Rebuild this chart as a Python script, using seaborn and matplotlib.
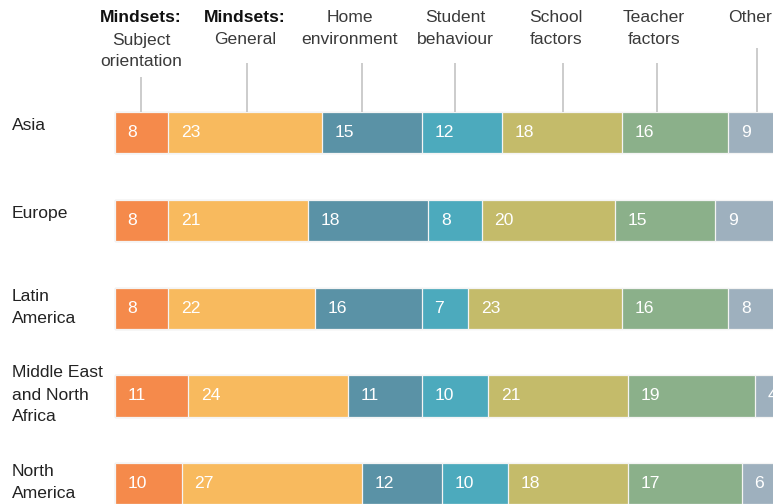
import matplotlib
matplotlib.use("Agg")
import matplotlib.pyplot as plt
import pandas as pd
import seaborn as sns

# data (share of mentions, %)
regions = ["Asia", "Europe", "Latin\nAmerica", "Middle East\nand North\nAfrica", "North\nAmerica"]
factors = ["subject", "general", "home", "student", "school", "teacher", "other"]
subject = [8, 8, 8, 11, 10]
general = [23, 21, 22, 24, 27]
home = [15, 18, 16, 11, 12]
student = [12, 8, 7, 10, 10]
school = [18, 20, 23, 21, 18]
teacher = [16, 15, 16, 19, 17]
other = [9, 9, 8, 4, 6]

# header texts above the bars (first line bold where it says "Mindsets:")
headers = [
    ["Mindsets:", "Subject", "orientation"],
    ["Mindsets:", "General"],
    ["Home", "environment"],
    ["Student", "behaviour"],
    ["School", "factors"],
    ["Teacher", "factors"],
    ["Other"],
]
bold_first = [True, True, False, False, False, False, False]

colors = ["#f58a4b", "#f8ba5e", "#5a92a6", "#4caabd", "#c4bb6a", "#8bb08a", "#9eb0be"]

# layout (data units on x, pixels from top on y)
header_x = [3.9, 19.5, 35.25, 51.0, 66.15, 80.85, 95.25]
leader_x = [3.9, 19.8, 37.05, 51.0, 67.2, 81.3, 96.3]
leader_top_px = [77, 63, 63, 63, 63, 63, 48]
XLIM = (-17.25, 98.7)
YLIM = (4.23, -1.51)
H_PX = 504
BAR_W = 0.47


def py(px):
    # pixel row from the top -> y data value
    return YLIM[1] + px * (YLIM[0] - YLIM[1]) / H_PX


df = pd.DataFrame({"region": regions, "subject": subject, "general": general,
                   "home": home, "student": student, "school": school,
                   "teacher": teacher, "other": other})
cum = df[factors].cumsum(axis=1)

sns.set_theme(style="white")
plt.rcParams["font.family"] = ["Liberation Sans", "DejaVu Sans"]

fig = plt.figure(figsize=(7.73, 5.04), dpi=100)
ax = fig.add_axes([0, 0, 1, 1])

# stacked bars: draw cumulative totals from the last segment backwards
for col, color in reversed(list(zip(factors, colors))):
    sns.barplot(x=cum[col], y=df["region"], orient="h", color=color,
                saturation=1, width=BAR_W, errorbar=None,
                edgecolor="#f4f4f4", linewidth=0.9, ax=ax)

# value labels inside each segment
for i in range(len(regions)):
    for col in factors:
        v = df.loc[i, col]
        left = cum.loc[i, col] - v
        ax.text(left + 1.9, i, str(v), color="white", ha="left", va="center",
                fontsize=12.6, clip_on=True)

# region labels on the left
for i, name in enumerate(regions):
    lines = name.split("\n")
    n = len(lines)
    center_px = (i - YLIM[1]) * H_PX / (YLIM[0] - YLIM[1])
    shift = -7 if n == 1 else -1
    for j, line in enumerate(lines):
        ax.text(-15.45, py(center_px + (j - (n - 1) / 2) * 22 + shift), line,
                ha="left", va="center", fontsize=12.6, color="#222222")

# column headers with leader lines
for k, lines in enumerate(headers):
    for j, line in enumerate(lines):
        bold = bold_first[k] and j == 0
        ax.text(header_x[k], py(18 + 22 * j), line, ha="center", va="center",
                fontsize=12.6, color="#111111" if bold else "#3a3a3a",
                fontweight="bold" if bold else "normal")
    ax.plot([leader_x[k], leader_x[k]], [py(leader_top_px[k]), -BAR_W / 2],
            color="#c8c8c8", lw=1.3, solid_capstyle="butt")

ax.set_xlim(*XLIM)
ax.set_ylim(*YLIM)
ax.axis("off")

fig.savefig("out.png", dpi=100)
